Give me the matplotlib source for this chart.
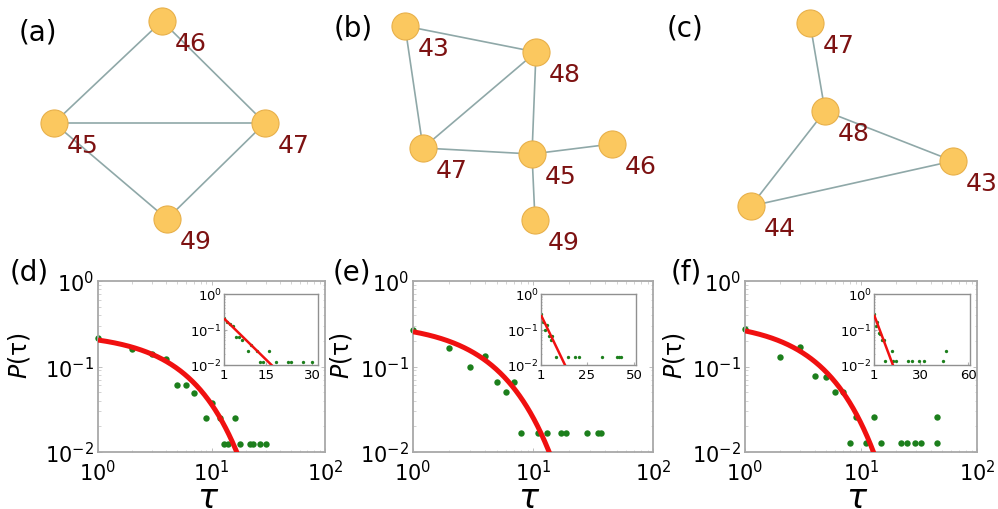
import numpy as np
import matplotlib
matplotlib.use("Agg")
import matplotlib.pyplot as plt

# -----------------------------
# NETWORKS (top row): node ids, layout, links
# -----------------------------
nodes_a = [45, 46, 47, 49]
layout_a_x = [54, 162, 265, 167]
layout_a_y = [124, 22, 124, 220]
edges_a = [(45, 46), (46, 47), (45, 47), (45, 49), (47, 49)]

nodes_b = [43, 48, 47, 45, 46, 49]
layout_b_x = [75, 206, 93, 202, 282, 205]
layout_b_y = [27, 53, 149, 155, 145, 221]
edges_b = [(43, 48), (43, 47), (47, 48), (48, 45), (47, 45), (45, 46), (45, 49)]

nodes_c = [47, 48, 43, 44]
layout_c_x = [150, 165, 293, 91]
layout_c_y = [24, 112, 162, 207]
edges_c = [(47, 48), (48, 43), (48, 44), (44, 43)]

# -----------------------------
# INTER-EVENT TIME DISTRIBUTIONS P(tau)
# -----------------------------
tau_d = [1, 2, 3, 4, 5, 6, 7, 9, 10, 12, 16, 13, 14, 18, 22, 23, 27, 30]
p_d = [0.213, 0.162, 0.139, 0.124, 0.061, 0.061, 0.049, 0.025, 0.037, 0.025, 0.025,
       0.0125, 0.0125, 0.0125, 0.0125, 0.0125, 0.0125, 0.0125]

tau_e = [1, 2, 3, 4, 5, 6, 7, 8, 11, 13, 17, 19, 28, 35, 37]
p_e = [0.266, 0.166, 0.1, 0.134, 0.0666, 0.05, 0.0666,
       0.0166, 0.0166, 0.0166, 0.0166, 0.0166, 0.0166, 0.0166, 0.0166]

tau_f = [1, 2, 3, 4, 5, 6, 7, 9, 13, 45, 8, 11, 15, 22, 25, 29, 33, 45]
p_f = [0.273, 0.128, 0.168, 0.0773, 0.075, 0.0509, 0.0509, 0.0254, 0.0254, 0.0254,
       0.0127, 0.0127, 0.0127, 0.0127, 0.0127, 0.0127, 0.0127, 0.0127]

# inset points (linear tau axis)
inset_tau_d = tau_d
inset_p_d = p_d
inset_tau_e = [1, 2, 3, 4, 5, 6, 7, 9, 15, 19, 21, 33, 41, 42, 43]
inset_p_e = [0.266, 0.166, 0.1, 0.134, 0.0666, 0.05, 0.0666,
             0.0166, 0.0166, 0.0166, 0.0166, 0.0166, 0.0166, 0.0166, 0.0166]
inset_tau_f = [1, 2, 3, 4, 5, 6, 7, 12.5, 46, 8, 13, 15, 22, 24.5, 29, 32, 44]
inset_p_f = [0.273, 0.128, 0.168, 0.0773, 0.075, 0.0509, 0.0509, 0.0254, 0.0254,
             0.0127, 0.0127, 0.0127, 0.0127, 0.0127, 0.0127, 0.0127, 0.0127]

# exponential fits P = amp * exp(-(tau - 1) / decay)
fit_amp = [0.204, 0.255, 0.261]
fit_decay = [5.2, 3.9, 3.62]

inset_xmax = [32, 51, 61]
inset_xticks = [[1, 15, 30], [1, 25, 50], [1, 30, 60]]

# -----------------------------
# STYLE
# -----------------------------
NODE = "#fbc85f"
NODE_EDGE = "#e8b04a"
LINK = "#8fa8a8"
NODE_LABEL = "#7d1212"
GREEN = "#1c7f1c"
RED = "#f01010"
FRAME = "#a8a8a8"

fig = plt.figure(figsize=(9.98, 5.10), dpi=100)


def draw_network(ax, nodes, xs, ys, edges):
    pos = {n: (x, y) for n, x, y in zip(nodes, xs, ys)}
    for u, v in edges:
        ax.plot([pos[u][0], pos[v][0]], [pos[u][1], pos[v][1]],
                color=LINK, lw=1.2, zorder=1)
    ax.scatter(xs, ys, s=380, color=NODE, edgecolor=NODE_EDGE, lw=0.8, zorder=2)
    for n, x, y in zip(nodes, xs, ys):
        ax.annotate(str(n), (x, y), xytext=(20.9, -20.9), textcoords="offset points",
                    ha="center", va="baseline", fontsize=18, color=NODE_LABEL, zorder=3)
    ax.set_xlim(0, 330)
    ax.set_ylim(260, 0)
    ax.axis("off")


networks = [(nodes_a, layout_a_x, layout_a_y, edges_a),
            (nodes_b, layout_b_x, layout_b_y, edges_b),
            (nodes_c, layout_c_x, layout_c_y, edges_c)]
for i, (nodes, xs, ys, edges) in enumerate(networks):
    ax = fig.add_axes([i * 330 / 998, 250 / 510, 330 / 998, 260 / 510])
    draw_network(ax, nodes, xs, ys, edges)

for label, (x, y) in zip(["(a)", "(b)", "(c)"], [(38, 33), (353, 28), (685, 29)]):
    fig.text(x / 998, 1 - y / 510, label, fontsize=20, ha="center", va="center")

# -----------------------------
# BOTTOM ROW: log-log distributions with semilog insets
# -----------------------------
main_rects = [[98 / 998, 57 / 510, 227 / 998, 171 / 510],
              [413 / 998, 57 / 510, 240 / 998, 171 / 510],
              [745 / 998, 57 / 510, 232 / 998, 171 / 510]]
inset_rects = [[224 / 998, 144 / 510, 94 / 998, 71 / 510],
               [541 / 998, 144 / 510, 95 / 998, 71 / 510],
               [874 / 998, 144 / 510, 96 / 998, 71 / 510]]
ylabel_x = [-0.29, -0.245, -0.25]

main_data = [(tau_d, p_d), (tau_e, p_e), (tau_f, p_f)]
inset_data = [(inset_tau_d, inset_p_d), (inset_tau_e, inset_p_e), (inset_tau_f, inset_p_f)]

for i in range(3):
    tau, p = main_data[i]
    ax = fig.add_axes(main_rects[i])
    ax.set_xscale("log")
    ax.set_yscale("log")
    ax.set_xlim(1, 100)
    ax.set_ylim(0.01, 1)

    t = np.geomspace(1, 100, 400)
    ax.plot(t, fit_amp[i] * np.exp(-(t - 1) / fit_decay[i]), color=RED, lw=3.6,
            solid_capstyle="butt", zorder=3)
    ax.plot(tau, p, "o", color=GREEN, ms=4.6, mec="none", zorder=2, clip_on=False)

    for s in ax.spines.values():
        s.set_color(FRAME)
        s.set_linewidth(1.3)
    ax.tick_params(which="both", direction="in", color="#c0c0c0", top=True, right=True)
    ax.tick_params(which="major", length=3, width=0.7, labelsize=15)
    ax.tick_params(axis="x", pad=5)
    ax.tick_params(axis="y", pad=3)
    ax.tick_params(which="minor", length=1.8, width=0.5)
    ax.set_xticks([1, 10, 100])
    ax.set_yticks([0.01, 0.1, 1])

    ax.set_ylabel("$P$(τ)", fontsize=17)
    ax.yaxis.set_label_coords(ylabel_x[i], 0.567)
    # the tau label sits right at the lower figure edge
    ax.set_xlabel("τ", fontsize=24, fontstyle="italic")
    ax.xaxis.set_label_coords(0.48, -0.322)
    ax.xaxis.label.set_va("baseline")

    # inset: same data on a linear time axis
    tau_i, p_i = inset_data[i]
    ins = fig.add_axes(inset_rects[i])
    ins.set_yscale("log")
    ins.set_xlim(1, inset_xmax[i])
    ins.set_ylim(0.01, 1)
    t_lin = np.linspace(1, inset_xmax[i], 200)
    ins.plot(t_lin, fit_amp[i] * np.exp(-(t_lin - 1) / fit_decay[i]), color=RED,
             lw=1.8, solid_capstyle="butt", zorder=3)
    ins.plot(tau_i, p_i, "o", color=GREEN, ms=2.4, mec="none", zorder=2)
    for s in ins.spines.values():
        s.set_color("#909090")
        s.set_linewidth(1.0)
    ins.set_xticks(inset_xticks[i])
    ins.set_yticks([0.01, 0.1, 1])
    ins.tick_params(which="both", direction="in", color="#b0b0b0", labelsize=9.5)
    ins.tick_params(axis="x", pad=2.5)
    ins.tick_params(axis="y", pad=1.5)
    ins.tick_params(which="major", length=2)
    ins.tick_params(which="minor", length=1)

for label, (x, y) in zip(["(d)", "(e)", "(f)"], [(29, 273), (352, 273), (686, 273)]):
    fig.text(x / 998, 1 - y / 510, label, fontsize=20, ha="center", va="center")

fig.savefig("out.png", dpi=100)
